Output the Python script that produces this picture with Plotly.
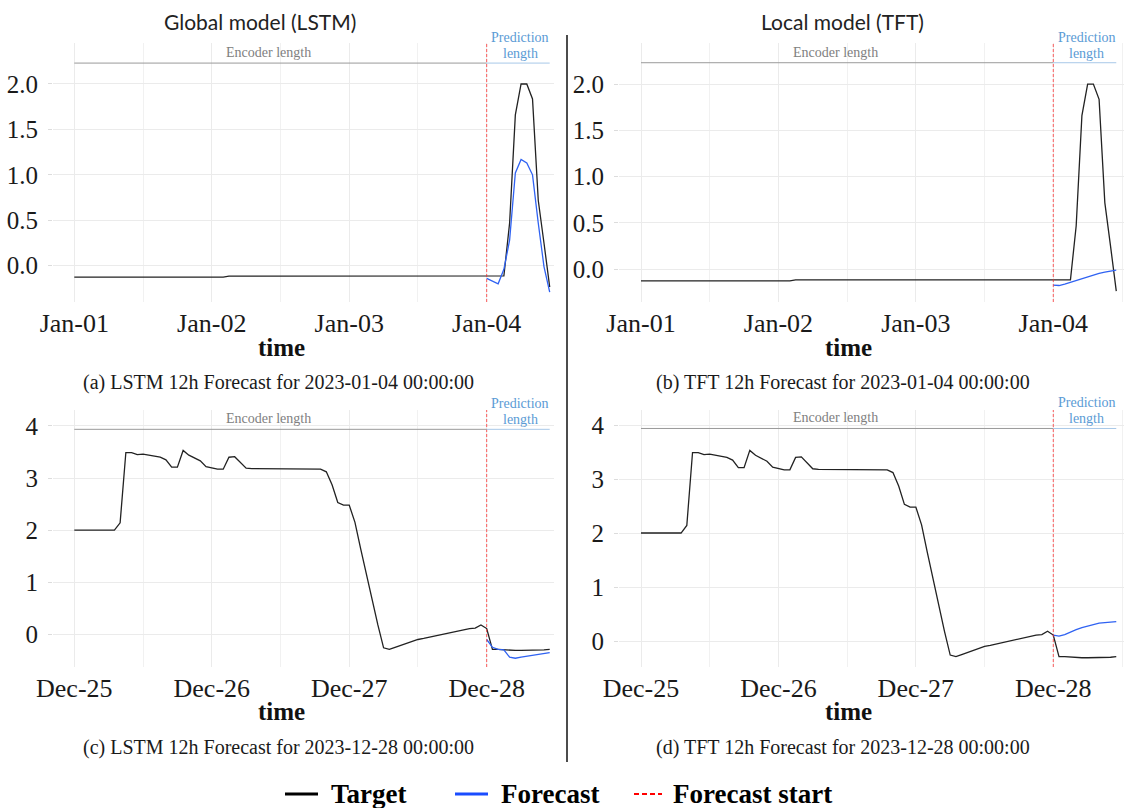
import plotly.graph_objects as go
import pandas as pd

W, H = 1124, 808

# ---------------- data ----------------
top_start = "2023-01-01 00:00"
bot_start = "2023-12-25 00:00"
encoder_hours = 72

top_target = [
    -0.125, -0.125, -0.125, -0.125, -0.125, -0.125, -0.125, -0.125, -0.125, -0.125,
    -0.125, -0.125, -0.125, -0.125, -0.125, -0.125, -0.125, -0.125, -0.125, -0.125,
    -0.125, -0.125, -0.125, -0.125, -0.125, -0.125, -0.125, -0.115, -0.115, -0.115,
    -0.115, -0.115, -0.115, -0.115, -0.115, -0.115, -0.115, -0.115, -0.115, -0.115,
    -0.115, -0.115, -0.115, -0.115, -0.115, -0.115, -0.115, -0.115, -0.115, -0.115,
    -0.115, -0.115, -0.115, -0.115, -0.115, -0.115, -0.115, -0.115, -0.115, -0.115,
    -0.115, -0.115, -0.115, -0.115, -0.115, -0.115, -0.115, -0.115, -0.115, -0.115,
    -0.115, -0.115,
    -0.115, -0.115, -0.115, -0.113, 0.47, 1.66, 2.0, 2.0, 1.835, 0.72, 0.25, -0.235,
]
top_lstm = [-0.14, -0.17, -0.20, -0.04, 0.28, 1.02, 1.17, 1.13, 1.00, 0.47, -0.01, -0.29]
top_tft = [-0.17, -0.175, -0.16, -0.14, -0.12, -0.10, -0.08, -0.06, -0.045, -0.03, -0.02, -0.01]

bot_target = [
    2.00, 2.00, 2.00, 2.00, 2.00, 2.00, 2.00, 2.00, 2.14, 3.49,
    3.49, 3.45, 3.46, 3.44, 3.41, 3.40, 3.35, 3.21, 3.21, 3.53,
    3.44, 3.39, 3.33, 3.22, 3.19, 3.17, 3.17, 3.40, 3.41, 3.30,
    3.19, 3.18, 3.18, 3.18, 3.18, 3.17, 3.17, 3.17, 3.17, 3.17,
    3.17, 3.17, 3.17, 3.17, 3.12, 2.87, 2.53, 2.48, 2.48, 2.15,
    1.64, 1.14, 0.66, 0.18, -0.26, -0.29, -0.25, -0.21, -0.17, -0.13,
    -0.10, -0.08, -0.055, -0.03, -0.01, 0.015, 0.04, 0.065, 0.09, 0.11,
    0.12, 0.18,
    0.11, -0.29, -0.29, -0.30, -0.31, -0.31, -0.31, -0.31, -0.31, -0.31, -0.30, -0.29,
]
bot_lstm = [-0.10, -0.25, -0.29, -0.30, -0.44, -0.46, -0.44, -0.42, -0.40, -0.38, -0.37, -0.35]
bot_tft = [0.11, 0.09, 0.12, 0.17, 0.21, 0.25, 0.28, 0.31, 0.33, 0.34, 0.35, 0.36]

col_titles = ["Global model (LSTM)", "Local model (TFT)"]
captions = [
    "(a) LSTM 12h Forecast for 2023-01-04 00:00:00",
    "(b) TFT 12h Forecast for 2023-01-04 00:00:00",
    "(c) LSTM 12h Forecast for 2023-12-28 00:00:00",
    "(d) TFT 12h Forecast for 2023-12-28 00:00:00",
]
legend_names = ["Target", "Forecast", "Forecast start"]

# ---------------- styles ----------------
C_TARGET = "#222222"
C_FC = "#2f62f2"
C_RED = "rgba(255,40,40,0.75)"
C_ENC = "#9a9a9a"
C_PRED_LINE = "#a8c8e8"
C_PRED_TEXT = "#5b9bd5"
SERIF = "Liberation Serif"


def px_x(p):
    return p / W


def px_y(p):
    return 1 - p / H


def hshift(start, h):
    return str((pd.Timestamp(start) + pd.Timedelta(hours=h)).round("s"))


panels = [
    dict(start=top_start, target=top_target, fc=top_lstm, xd=(53, 554), yd=(43, 302),
         xr=(-3.719, 83.75), yr=(-0.3996, 2.451), dy=0.5, yfmt=".1f"),
    dict(start=top_start, target=top_target, fc=top_tft, xd=(619, 1124), yd=(43, 302),
         xr=(-3.842, 84.35), yr=(-0.353, 2.443), dy=0.5, yfmt=".1f"),
    dict(start=bot_start, target=bot_target, fc=bot_lstm, xd=(53, 554), yd=(410, 667),
         xr=(-3.719, 83.75), yr=(-0.628, 4.307), dy=1, yfmt="d"),
    dict(start=bot_start, target=bot_target, fc=bot_tft, xd=(619, 1124), yd=(410, 667),
         xr=(-3.842, 84.35), yr=(-0.481, 4.278), dy=1, yfmt="d"),
]

fig = go.Figure()
shapes = []
annotations = []
layout = {}

for i, p in enumerate(panels):
    k = "" if i == 0 else str(i + 1)
    xa, ya = "x" + k, "y" + k
    times = pd.date_range(p["start"], periods=len(p["target"]), freq="h")
    fc_times = times[encoder_hours:encoder_hours + len(p["fc"])]

    fig.add_trace(go.Scatter(x=times, y=p["target"], mode="lines", xaxis=xa, yaxis=ya,
                             line=dict(color=C_TARGET, width=1.3), showlegend=False))
    fig.add_trace(go.Scatter(x=fc_times, y=p["fc"], mode="lines", xaxis=xa, yaxis=ya,
                             line=dict(color=C_FC, width=1.3), showlegend=False))

    layout["xaxis" + k] = dict(
        domain=[px_x(p["xd"][0]), px_x(p["xd"][1])], anchor=ya, type="date",
        range=[hshift(p["start"], p["xr"][0]), hshift(p["start"], p["xr"][1])],
        tick0=p["start"], dtick=86400000, tickformat="%b-%d",
        showgrid=True, gridcolor="#ebebeb", gridwidth=1,
        minor=dict(dtick=43200000, tick0=p["start"], showgrid=True,
                   gridcolor="#f1f1f1", gridwidth=1),
        ticks="", ticklabelstandoff=3, automargin=False,
        tickfont=dict(family=SERIF, size=26, color="#1a1a1a"),
        showline=False, zeroline=False, fixedrange=True,
    )
    layout["yaxis" + k] = dict(
        domain=[px_y(p["yd"][1]), px_y(p["yd"][0])], anchor=xa,
        range=list(p["yr"]), dtick=p["dy"], tick0=0, tickformat=p["yfmt"],
        showgrid=True, gridcolor="#ebebeb", gridwidth=1,
        ticks="outside", ticklen=4, tickcolor="#dcdcdc", ticklabelstandoff=5,
        automargin=False,
        tickfont=dict(family=SERIF, size=25, color="#1a1a1a"),
        showline=False, zeroline=False, fixedrange=True,
    )

    # forecast start
    shapes.append(dict(type="line", xref=xa, yref=ya + " domain", x0=times[encoder_hours],
                       x1=times[encoder_hours], y0=0, y1=1,
                       line=dict(color=C_RED, width=1, dash="3px,2px")))
    level = 1.115 * max(p["target"])
    shapes.append(dict(type="line", xref=xa, yref=ya, x0=times[0], x1=times[encoder_hours],
                       y0=level, y1=level, line=dict(color=C_ENC, width=1)))
    shapes.append(dict(type="line", xref=xa, yref=ya, x0=times[encoder_hours], x1=times[-1],
                       y0=level, y1=level, line=dict(color=C_PRED_LINE, width=1)))
    enc_mid = times[0] + (times[encoder_hours] - times[0]) / 2
    pred_mid = times[encoder_hours] + (times[-1] - times[encoder_hours]) / 2
    annotations.append(dict(text="Encoder length", xref=xa, yref=ya, x=enc_mid, y=level,
                            xanchor="center", yanchor="bottom", yshift=1, xshift=-12,
                            showarrow=False, font=dict(family=SERIF, size=14, color="#808080")))
    annotations.append(dict(text="Prediction", xref=xa, yref=ya, x=pred_mid, y=level,
                            xanchor="center", yanchor="bottom", yshift=16, xshift=2,
                            showarrow=False,
                            font=dict(family=SERIF, size=14, color=C_PRED_TEXT)))
    annotations.append(dict(text="length", xref=xa, yref=ya, x=pred_mid, y=level,
                            xanchor="center", yanchor="bottom", yshift=0, xshift=2,
                            showarrow=False,
                            font=dict(family=SERIF, size=14, color=C_PRED_TEXT)))

# column titles
for txt, cx in zip(col_titles, [260, 842]):
    annotations.append(dict(text=txt, xref="paper", yref="paper", x=px_x(cx), y=px_y(21.5),
                            xanchor="center", yanchor="middle", showarrow=False,
                            font=dict(family="Lato", size=21, color="#222222")))

# axis titles "time"
for cx, cy in [(281.5, 347), (848, 347), (281.5, 711), (848, 711)]:
    annotations.append(dict(text="<b>time</b>", xref="paper", yref="paper", x=px_x(cx),
                            y=px_y(cy), xanchor="center", yanchor="middle", showarrow=False,
                            font=dict(family=SERIF, size=25, color="#111111")))

# captions
for txt, (cx, cy) in zip(captions, [(278, 382), (843, 382), (278, 747), (843, 747)]):
    annotations.append(dict(text=txt, xref="paper", yref="paper", x=px_x(cx), y=px_y(cy),
                            xanchor="center", yanchor="middle", showarrow=False,
                            font=dict(family=SERIF, size=20, color="#1a1a1a")))

# vertical divider
shapes.append(dict(type="line", xref="paper", yref="paper", x0=px_x(567), x1=px_x(567),
                   y0=px_y(35), y1=px_y(762), line=dict(color="#111111", width=1.5)))

# manual legend
leg_y = 794
leg_items = [
    (legend_names[0], (285, 318), 329, dict(color="#000000", width=3)),
    (legend_names[1], (455, 488), 499, dict(color="#1a4cff", width=3)),
    (legend_names[2], (634, 662), 671, dict(color="#ff0000", width=2, dash="5px,3px")),
]
for name, (l0, l1), tx, ln in leg_items:
    shapes.append(dict(type="line", xref="paper", yref="paper", x0=px_x(l0), x1=px_x(l1),
                       y0=px_y(leg_y), y1=px_y(leg_y), line=ln))
    annotations.append(dict(text="<b>" + name + "</b>", xref="paper", yref="paper",
                            x=px_x(tx), y=px_y(leg_y), xanchor="left", yanchor="middle",
                            showarrow=False, font=dict(family=SERIF, size=27, color="#000000")))

fig.update_layout(
    width=W, height=H, autosize=False,
    margin=dict(l=0, r=0, t=0, b=0, pad=0, autoexpand=False),
    paper_bgcolor="white", plot_bgcolor="white",
    showlegend=False, shapes=shapes, annotations=annotations,
    **layout,
)

fig.write_html("out.html")
